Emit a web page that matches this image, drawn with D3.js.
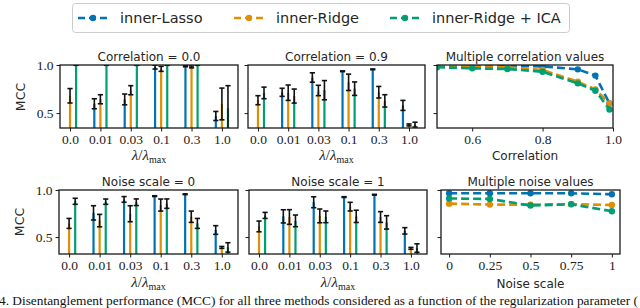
<!DOCTYPE html>
<html><head><meta charset="utf-8">
<script src="https://cdn.jsdelivr.net/npm/d3@7"></script>
<style>body{margin:0;background:#fff}svg{display:block}</style>
</head><body>
<svg id="c" width="640" height="308"></svg>
<script>
// ---------- data ----------
const methods = ["inner-Lasso", "inner-Ridge", "inner-Ridge + ICA"];
const colors = ["#0173b2", "#de8f05", "#029e73"];
const lambdaLabels = ["0.0", "0.01", "0.03", "0.1", "0.3", "1.0"];

const corr0Lasso = [null, 0.597, 0.642, 0.978, 0.99, 0.47];
const corr0Ridge = [0.68, 0.644, 0.738, 0.96, 0.98, 0.595];
const corr0Ica   = [1.0, 1.0, 1.0, 1.0, 1.0, 0.55];
const corr0LassoErr = [null, 0.052, 0.056, 0.02, 0.008, 0.047];
const corr0RidgeErr = [0.075, 0.047, 0.047, 0.026, 0.01, 0.165];
const corr0IcaErr   = [0.003, 0.003, 0.003, 0.003, 0.003, 0.235];

const corr9Lasso = [null, 0.716, 0.87, 0.935, 0.955, 0.58];
const corr9Ridge = [0.634, 0.712, 0.735, 0.82, 0.717, 0.377];
const corr9Ica   = [0.71, 0.677, 0.738, 0.754, 0.627, 0.38];
const corr9LassoErr = [null, 0.042, 0.049, 0.004, 0.004, 0.052];
const corr9RidgeErr = [0.047, 0.08, 0.054, 0.085, 0.06, 0.01];
const corr9IcaErr   = [0.06, 0.073, 0.1, 0.07, 0.064, 0.025];

const noise0Lasso = [null, 0.757, 0.9, 0.935, 0.955, 0.575];
const noise0Ridge = [0.645, 0.675, 0.748, 0.84, 0.716, 0.39];
const noise0Ica   = [0.88, 0.876, 0.87, 0.855, 0.645, 0.39];
const noise0LassoErr = [null, 0.076, 0.03, 0.004, 0.004, 0.046];
const noise0RidgeErr = [0.053, 0.066, 0.085, 0.064, 0.06, 0.01];
const noise0IcaErr   = [0.032, 0.028, 0.035, 0.05, 0.053, 0.05];

const noise1Lasso = [null, 0.72, 0.87, 0.925, 0.95, 0.566];
const noise1Ridge = [0.613, 0.713, 0.725, 0.823, 0.713, 0.38];
const noise1Ica   = [0.73, 0.672, 0.715, 0.72, 0.656, 0.383];
const noise1LassoErr = [null, 0.07, 0.058, 0.004, 0.004, 0.034];
const noise1RidgeErr = [0.057, 0.078, 0.073, 0.046, 0.057, 0.01];
const noise1IcaErr   = [0.032, 0.062, 0.062, 0.065, 0.071, 0.045];

const corrValues = [0.5, 0.6, 0.7, 0.8, 0.9, 0.95, 0.99];
const corrLasso  = [0.995, 0.995, 0.99, 0.985, 0.955, 0.89, 0.60];
const corrRidge  = [0.99, 0.983, 0.976, 0.948, 0.826, 0.747, 0.60];
const corrIca    = [0.976, 0.965, 0.958, 0.93, 0.809, 0.733, 0.538];
const corrTicks  = [0.6, 0.8, 1.0];

const noiseValues = [0, 0.25, 0.5, 0.75, 1];
const noiseLasso  = [0.965, 0.965, 0.965, 0.965, 0.955];
const noiseRidge  = [0.855, 0.845, 0.845, 0.85, 0.84];
const noiseIca    = [0.91, 0.905, 0.835, 0.848, 0.775];
const noiseTicks  = [0, 0.25, 0.5, 0.75, 1];

const yTicks = [0.5, 1.0];

const caption = "4. Disentanglement performance (MCC) for all three methods considered as a function of the regularization parameter (";

// ---------- drawing ----------
const svg = d3.select("#c");
const SANS = "DejaVu Sans", SERIF = "Liberation Serif";
const FRAME = "#1a1a1a";

function makeY(y0, y1, lo) { return d3.scaleLinear().domain([lo, 1.0]).range([y1, y0]); }

let clipId = 0;
function panel(x0, x1, y0, y1, y, title, showYLabels) {
  const g = svg.append("g");
  const id = "clip" + (clipId++);
  svg.append("clipPath").attr("id", id).append("rect")
    .attr("x", x0).attr("y", y0).attr("width", x1 - x0).attr("height", y1 - y0);
  const inner = g.append("g").attr("clip-path", `url(#${id})`);
  const ya = d3.axisLeft(y).tickValues(yTicks).tickSize(3.5).tickPadding(3)
    .tickFormat(showYLabels ? d3.format(".1f") : "");
  const yg = g.append("g").attr("transform", `translate(${x0},0)`).call(ya);
  yg.select(".domain").remove();
  yg.selectAll("line").attr("stroke", FRAME).attr("stroke-width", 1);
  yg.selectAll("text").attr("font-family", SERIF).attr("font-size", 13.5).attr("fill", "#222");
  g.append("text").attr("x", (x0 + x1) / 2).attr("y", y0 - 4).attr("text-anchor", "middle")
    .attr("font-family", SANS).attr("font-size", 12).attr("fill", "#262626").text(title);
  return {g, inner, frame: () => g.append("rect").attr("x", x0).attr("y", y0)
    .attr("width", x1 - x0).attr("height", y1 - y0).attr("fill", "none")
    .attr("stroke", FRAME).attr("stroke-width", 1.3)};
}

function xAxis(g, x, y1, ticks, fmt) {
  const xa = d3.axisBottom(x).tickValues(ticks).tickSize(3.5).tickPadding(3).tickFormat(fmt);
  const xg = g.append("g").attr("transform", `translate(0,${y1})`).call(xa);
  xg.select(".domain").remove();
  xg.selectAll("line").attr("stroke", FRAME).attr("stroke-width", 1);
  xg.selectAll("text").attr("font-family", SERIF).attr("font-size", 13.5).attr("fill", "#222");
}

function lambdaLabel(cx, yb) {
  const t = svg.append("text").attr("x", cx).attr("y", yb).attr("text-anchor", "middle")
    .attr("font-family", SERIF).attr("font-size", 15).attr("fill", "#222");
  t.append("tspan").attr("font-style", "italic").text("λ");
  t.append("tspan").text("/");
  t.append("tspan").attr("font-style", "italic").text("λ");
  t.append("tspan").attr("font-size", 10).attr("dy", 3).text("max");
}

function barPanel(x0, x1, y0, y1, lo, title, series, errs, showYLabels, xlabY) {
  const y = makeY(y0, y1, lo);
  const x = d3.scaleLinear().domain([-0.33, 5.53]).range([x0, x1]);
  const p = panel(x0, x1, y0, y1, y, title, showYLabels);
  const offs = [-0.2, 0, 0.2];
  const bw = 2.2;
  series.forEach((s, k) => {
    const data = s.map((v, i) => ({i, v, e: errs[k][i]})).filter(d => d.v != null);
    p.inner.selectAll(null).data(data).enter().append("rect")
      .attr("x", d => x(d.i + offs[k]) - bw / 2).attr("width", bw)
      .attr("y", d => y(d.v)).attr("height", d => y(lo) - y(d.v))
      .attr("fill", colors[k]);
  });
  series.forEach((s, k) => {
    const data = s.map((v, i) => ({i, v, e: errs[k][i]})).filter(d => d.v != null);
    const eg = p.inner.selectAll(null).data(data).enter().append("g")
      .attr("stroke", "#111").attr("stroke-width", 1.6);
    eg.append("line").attr("x1", d => x(d.i + offs[k])).attr("x2", d => x(d.i + offs[k]))
      .attr("y1", d => y(d.v + d.e)).attr("y2", d => y(d.v - d.e));
    [1, -1].forEach(sg => eg.append("line")
      .attr("x1", d => x(d.i + offs[k]) - 2.6).attr("x2", d => x(d.i + offs[k]) + 2.6)
      .attr("y1", d => y(d.v + sg * d.e)).attr("y2", d => y(d.v + sg * d.e)));
  });
  p.frame();
  xAxis(p.g, x, y1, d3.range(lambdaLabels.length), i => lambdaLabels[i]);
  lambdaLabel((x0 + x1) / 2, xlabY);
}

function linePanel(x0, x1, y0, y1, lo, dom, title, xs, series, ticks, fmt, xlabel, xlabY) {
  const y = makeY(y0, y1, lo);
  const x = d3.scaleLinear().domain(dom).range([x0, x1]);
  const p = panel(x0, x1, y0, y1, y, title, false);
  series.forEach((s, k) => {
    const pts = xs.map((v, i) => [v, s[i]]);
    p.inner.append("path").datum(pts)
      .attr("d", d3.line().x(d => x(d[0])).y(d => y(d[1])))
      .attr("fill", "none").attr("stroke", colors[k]).attr("stroke-width", 2.6)
      .attr("stroke-dasharray", "8,4");
    p.inner.selectAll(null).data(pts).enter().append("circle")
      .attr("cx", d => x(d[0])).attr("cy", d => y(d[1])).attr("r", 3.2).attr("fill", colors[k]);
  });
  p.frame();
  xAxis(p.g, x, y1, ticks, fmt);
  svg.append("text").attr("x", (x0 + x1) / 2).attr("y", xlabY).attr("text-anchor", "middle")
    .attr("font-family", SANS).attr("font-size", 12).attr("fill", "#262626").text(xlabel);
}

// Row 1
barPanel(60, 238, 65, 128, 0.345, "Correlation = 0.0",
  [corr0Lasso, corr0Ridge, corr0Ica], [corr0LassoErr, corr0RidgeErr, corr0IcaErr], true, 160);
barPanel(248, 425, 65, 128, 0.345, "Correlation = 0.9",
  [corr9Lasso, corr9Ridge, corr9Ica], [corr9LassoErr, corr9RidgeErr, corr9IcaErr], false, 160);
linePanel(437, 613, 65, 128, 0.345, [0.5, 1.0], "Multiple correlation values",
  corrValues, [corrLasso, corrRidge, corrIca], corrTicks, d3.format(".1f"), "Correlation", 160);

// Row 2
barPanel(59, 238, 190, 254, 0.32, "Noise scale = 0",
  [noise0Lasso, noise0Ridge, noise0Ica], [noise0LassoErr, noise0RidgeErr, noise0IcaErr], true, 287);
barPanel(249, 427, 190, 254, 0.32, "Noise scale = 1",
  [noise1Lasso, noise1Ridge, noise1Ica], [noise1LassoErr, noise1RidgeErr, noise1IcaErr], false, 287);
linePanel(441, 620, 190, 254, 0.32, [-0.05, 1.05], "Multiple noise values",
  noiseValues, [noiseLasso, noiseRidge, noiseIca], noiseTicks, d => d3.format("")(d), "Noise scale", 288);

// MCC labels
[[25, 97], [24, 222]].forEach(([cx, cy]) => svg.append("text")
  .attr("transform", `translate(${cx},${cy}) rotate(-90)`).attr("text-anchor", "middle")
  .attr("font-family", SANS).attr("font-size", 12.5).attr("fill", "#262626").text("MCC"));

// Legend
const lg = svg.append("g");
lg.append("rect").attr("x", 72.5).attr("y", 3.5).attr("width", 497).attr("height", 29).attr("rx", 3)
  .attr("fill", "#fff").attr("stroke", "#cccccc").attr("stroke-width", 1);
const legX = [78, 234, 390];
methods.forEach((m, k) => {
  const hx = legX[k], hy = 18;
  lg.append("line").attr("x1", hx).attr("x2", hx + 30).attr("y1", hy).attr("y2", hy)
    .attr("stroke", colors[k]).attr("stroke-width", 2.6).attr("stroke-dasharray", "7,4");
  lg.append("circle").attr("cx", hx + 15).attr("cy", hy).attr("r", 3.2).attr("fill", colors[k]);
  lg.append("text").attr("x", hx + 42).attr("y", hy + 5).attr("font-family", SANS)
    .attr("font-size", 14.5).attr("fill", "#262626").text(m);
});

// Caption
svg.append("text").attr("x", -1).attr("y", 305).attr("font-family", SERIF).attr("font-size", 13)
  .attr("fill", "#111").attr("textLength", 639).attr("lengthAdjust", "spacingAndGlyphs").text(caption);
</script>
</body></html>
